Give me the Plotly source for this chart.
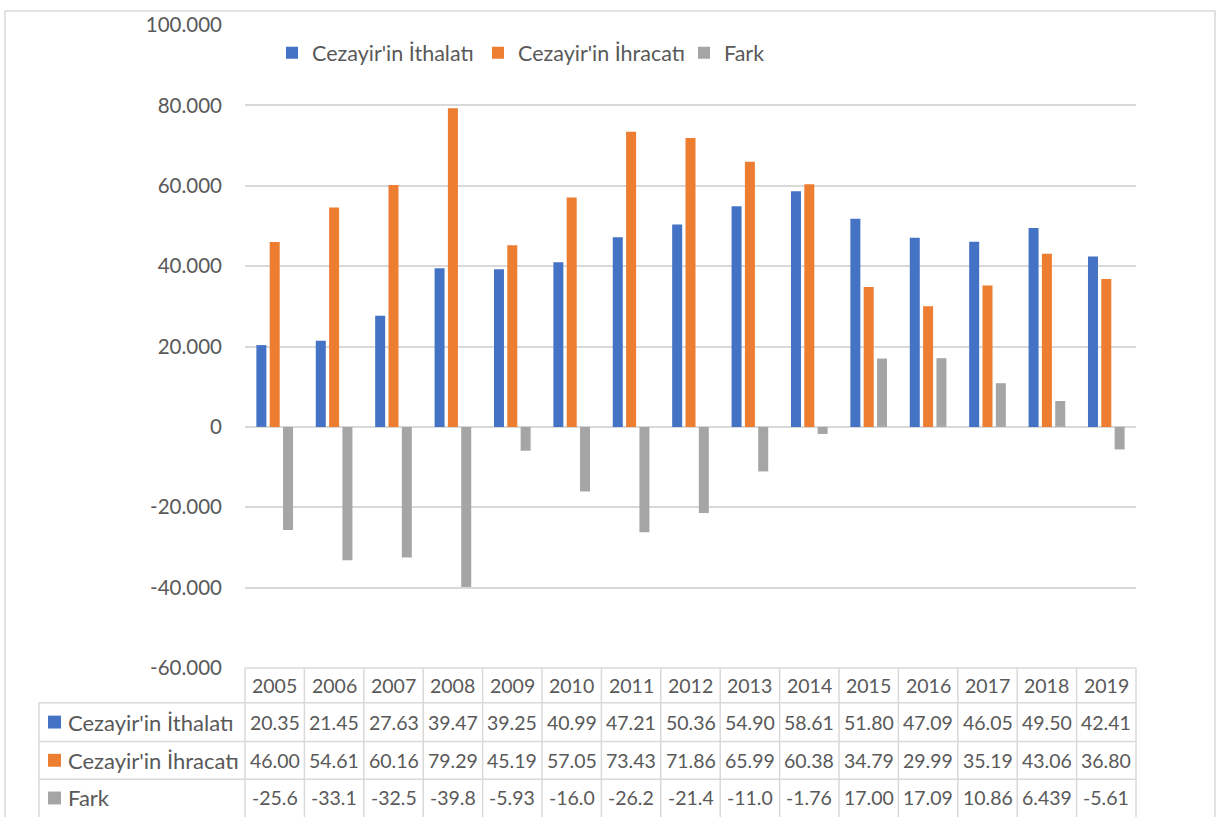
import plotly.graph_objects as go

years = ["2005", "2006", "2007", "2008", "2009", "2010", "2011", "2012",
         "2013", "2014", "2015", "2016", "2017", "2018", "2019"]
ithalat = [20.35, 21.45, 27.63, 39.47, 39.25, 40.99, 47.21, 50.36,
           54.90, 58.61, 51.80, 47.09, 46.05, 49.50, 42.41]
ihracat = [46.00, 54.61, 60.16, 79.29, 45.19, 57.05, 73.43, 71.86,
           65.99, 60.38, 34.79, 29.99, 35.19, 43.06, 36.80]
fark = [-25.65, -33.16, -32.53, -39.82, -5.935, -16.06, -26.22, -21.45,
        -11.09, -1.765, 17.003, 17.09, 10.86, 6.439, -5.61]
series_names = ["Cezayir'in İthalatı", "Cezayir'in İhracatı", "Fark"]
colors = ["#4472C4", "#ED7D31", "#A5A5A5"]
y_ticks = [-60, -40, -20, 0, 20, 40, 60, 80, 100]
y_tick_labels = ["-60.000", "-40.000", "-20.000", "0", "20.000",
                 "40.000", "60.000", "80.000", "100.000"]

FONT = "Lato, Calibri, sans-serif"
TXT = "#595959"
GRID = "#D9D9D9"

W_FIG, H_FIG = 1217, 817
PL, PR, PT, PB = 245, 1136, 20, 668
PW, PH = PR - PL, PB - PT


def px(x):
    return (x - PL) / PW


def py(y):
    return (PB - y) / PH


def cell_text(v):
    return f"{v:.3f}"[:5]


series = [ithalat, ihracat, fark]

fig = go.Figure()
for name, vals, col in zip(series_names, series, colors):
    fig.add_trace(go.Bar(x=years, y=vals, name=name, marker_color=col,
                         marker_line_width=0))

shapes = []
annotations = []
n = len(years)
col_w = PW / n
row_lines = [668, 703, 742, 780]
row_centers = [686, 722.5, 761, 799]
left_x = 39
bottom = 830

shapes.append(dict(type="line", xref="paper", yref="paper", x0=px(PL), x1=px(PR),
                   y0=py(row_lines[0]), y1=py(row_lines[0]),
                   line=dict(color=GRID, width=1.5)))
for yl in row_lines[1:]:
    shapes.append(dict(type="line", xref="paper", yref="paper", x0=px(left_x), x1=px(PR),
                       y0=py(yl), y1=py(yl), line=dict(color=GRID, width=1.5)))
for i in range(n + 1):
    xl = PL + i * col_w
    shapes.append(dict(type="line", xref="paper", yref="paper", x0=px(xl), x1=px(xl),
                       y0=py(row_lines[0]), y1=py(bottom),
                       line=dict(color=GRID, width=1.5)))
shapes.append(dict(type="line", xref="paper", yref="paper", x0=px(left_x), x1=px(left_x),
                   y0=py(row_lines[1]), y1=py(bottom), line=dict(color=GRID, width=1.5)))
shapes.append(dict(type="rect", xref="paper", yref="paper", x0=px(5), x1=px(1215),
                   y0=py(6), y1=py(bottom), line=dict(color=GRID, width=1.5)))

for i, yr in enumerate(years):
    annotations.append(dict(x=i, xref="x", y=py(row_centers[0]), yref="paper",
                            text=yr, showarrow=False, xanchor="center", yanchor="middle",
                            font=dict(family=FONT, size=19.5, color=TXT)))
for r, (name, vals, col) in enumerate(zip(series_names, series, colors)):
    yc = row_centers[r + 1]
    for i, v in enumerate(vals):
        annotations.append(dict(x=i, xref="x", y=py(yc), yref="paper",
                                text=cell_text(v), showarrow=False,
                                xanchor="center", yanchor="middle",
                                font=dict(family=FONT, size=19.5, color=TXT)))
    shapes.append(dict(type="rect", xref="paper", yref="paper", x0=px(48), x1=px(61),
                       y0=py(yc - 6.5), y1=py(yc + 6.5), fillcolor=col,
                       line=dict(width=0)))
    annotations.append(dict(x=px(66), xref="paper", y=py(yc), yref="paper",
                            text=name, showarrow=False, xanchor="left", yanchor="middle",
                            font=dict(family=FONT, size=22, color=TXT)))

fig.update_layout(
    width=W_FIG, height=H_FIG,
    margin=dict(l=PL, r=W_FIG - PR, t=PT, b=H_FIG - PB, pad=0),
    paper_bgcolor="white", plot_bgcolor="white",
    barmode="group", bargap=0.327, bargroupgap=0.25,
    font=dict(family=FONT, size=19, color=TXT),
    showlegend=True,
    legend=dict(orientation="h", x=px(272), xanchor="left", y=py(48), yanchor="middle",
                font=dict(family=FONT, size=21.5, color=TXT), bgcolor="rgba(0,0,0,0)",
                entrywidth=161, entrywidthmode="pixels", itemclick=False),
    xaxis=dict(type="category", showticklabels=False, showgrid=False, showline=False,
               ticks="", zeroline=False, range=[-0.5, n - 0.5]),
    yaxis=dict(range=[-60, 100], tickvals=y_ticks, ticktext=y_tick_labels,
               showgrid=True, gridcolor=GRID, gridwidth=1.5, zeroline=True,
               zerolinecolor=GRID, zerolinewidth=1.5, showline=False, ticks="",
               ticklabelstandoff=22, tickfont=dict(family=FONT, size=20.5, color=TXT)),
    shapes=shapes, annotations=annotations,
)

fig.write_html("out.html", config={"displayModeBar": False},
               post_script="document.body.style.margin='0';document.body.style.overflow='hidden';")
